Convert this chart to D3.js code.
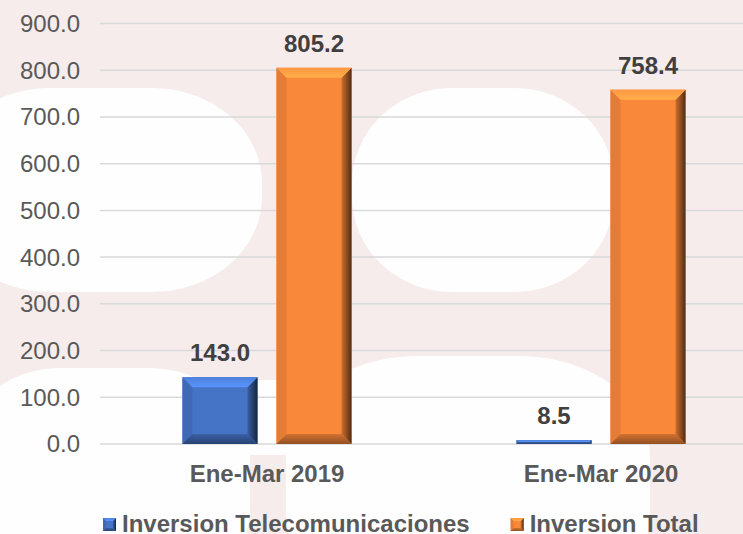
<!DOCTYPE html>
<html>
<head>
<meta charset="utf-8">
<script src="https://cdn.jsdelivr.net/npm/d3@7"></script>
<style>
  body { margin: 0; background: #fff; }
  svg { display: block; font-family: "Liberation Sans", Arial, sans-serif; }
</style>
</head>
<body>
<script>
// datos
const categorias = ["Ene-Mar 2019", "Ene-Mar 2020"];
const series = ["Inversion Telecomunicaciones", "Inversion Total"];
const telecom = [143.0, 8.5];
const total = [805.2, 758.4];
const ticks = [0, 100, 200, 300, 400, 500, 600, 700, 800, 900];
const colores = ["#4573c5", "#fa883a"];

const width = 743, height = 534;
const svg = d3.select("body").append("svg")
    .attr("width", width)
    .attr("height", height);

// fondo con marca de agua rosada (decorativo)
svg.append("rect").attr("width", width).attr("height", height).attr("fill", "#f7ecec");
const manchas = [
    // x, y, ancho, alto, radio x, radio y
    [-60, 88, 322, 204, 110, 95],
    [352, 88, 262, 204, 100, 95],
    [-40, 368, 290, 230, 100, 90],
    [286, 356, 364, 260, 130, 100],
    [230, 380, 70, 75, 0, 0]
];
svg.append("g").selectAll("rect").data(manchas).join("rect")
    .attr("x", d => d[0]).attr("y", d => d[1])
    .attr("width", d => d[2]).attr("height", d => d[3])
    .attr("rx", d => d[4]).attr("ry", d => d[5])
    .attr("fill", "#fefefe");

// escalas
const y = d3.scaleLinear().domain([0, 900]).range([444, 23.5]);
const x0 = d3.scaleBand().domain(categorias).range([100, 768]).padding(0);
const x1 = d3.scaleBand().domain(series).range([0, x0.bandwidth()])
    .paddingInner(0.202).paddingOuter(0.877);

// gradientes para el bisel
const defs = svg.append("defs");
colores.forEach((c, i) => {
    const base = d3.color(c);
    const g1 = defs.append("linearGradient").attr("id", "der" + i)
        .attr("x1", 0).attr("x2", 1).attr("y1", 0).attr("y2", 0);
    g1.append("stop").attr("offset", 0).attr("stop-color", base.darker(0.6));
    g1.append("stop").attr("offset", 0.6).attr("stop-color", base.darker(1.8));
    g1.append("stop").attr("offset", 1).attr("stop-color", base.darker(3.2));
    const g2 = defs.append("linearGradient").attr("id", "inf" + i)
        .attr("x1", 0).attr("x2", 0).attr("y1", 0).attr("y2", 1);
    g2.append("stop").attr("offset", 0).attr("stop-color", base.darker(0.5));
    g2.append("stop").attr("offset", 1).attr("stop-color", base.darker(1.5));
    const g3 = defs.append("linearGradient").attr("id", "sup" + i)
        .attr("x1", 0).attr("x2", 0).attr("y1", 0).attr("y2", 1);
    g3.append("stop").attr("offset", 0).attr("stop-color", base.brighter(0.3));
    g3.append("stop").attr("offset", 1).attr("stop-color", base.brighter(0.7));
});

// lineas de cuadricula
svg.append("g").selectAll("line").data(ticks).join("line")
    .attr("x1", 100).attr("x2", width)
    .attr("y1", d => y(d)).attr("y2", d => y(d))
    .attr("stroke", "#d9d9d9").attr("stroke-width", 1.5);

// etiquetas eje y
svg.append("g").selectAll("text").data(ticks).join("text")
    .attr("x", 80).attr("y", d => y(d)).attr("dy", "0.35em")
    .attr("text-anchor", "end")
    .attr("font-size", 24).attr("fill", "#595959")
    .text(d => d3.format(".1f")(d));

// barra con bisel
function barra(g, bx, by, w, h, i, bmax) {
    const b = Math.min(bmax, h / 2, w / 2);
    const pt = p => p.map(q => q.join(",")).join(" ");
    g.append("rect").attr("x", bx).attr("y", by).attr("width", w).attr("height", h)
        .attr("fill", colores[i]);
    if (b <= 0) return;
    g.append("polygon").attr("points", pt([[bx, by], [bx + b, by + b], [bx + b, by + h - b], [bx, by + h]]))
        .attr("fill", d3.color(colores[i]).darker(0.25));
    g.append("polygon").attr("points", pt([[bx + w, by], [bx + w - b, by + b], [bx + w - b, by + h - b], [bx + w, by + h]]))
        .attr("fill", `url(#der${i})`);
    g.append("polygon").attr("points", pt([[bx, by + h], [bx + b, by + h - b], [bx + w - b, by + h - b], [bx + w, by + h]]))
        .attr("fill", `url(#inf${i})`);
    g.append("polygon").attr("points", pt([[bx, by], [bx + w, by], [bx + w - b, by + b], [bx + b, by + b]]))
        .attr("fill", `url(#sup${i})`);
}

const valores = [telecom, total];
const barras = svg.append("g");
categorias.forEach((cat, ci) => {
    series.forEach((s, si) => {
        const v = valores[si][ci];
        const bx = x0(cat) + x1(s);
        const by = y(v);
        barra(barras.append("g"), bx, by, x1.bandwidth(), y(0) - by, si, 10);
        svg.append("text")
            .attr("x", bx + x1.bandwidth() / 2).attr("y", by - 16)
            .attr("text-anchor", "middle")
            .attr("font-size", 24).attr("font-weight", "bold").attr("fill", "#404040")
            .text(d3.format(".1f")(v));
    });
});

// etiquetas eje x
svg.append("g").selectAll("text").data(categorias).join("text")
    .attr("x", d => x0(d) + x0.bandwidth() / 2).attr("y", 482)
    .attr("text-anchor", "middle")
    .attr("font-size", 24).attr("font-weight", "bold").attr("fill", "#595959")
    .text(d => d);

// leyenda
let lx = 103;
series.forEach((s, i) => {
    const g = svg.append("g");
    barra(g, lx, 518, 13, 13, i, 3);
    const t = g.append("text").attr("x", lx + 19).attr("y", 532)
        .attr("font-size", 24).attr("font-weight", "bold").attr("fill", "#595959")
        .text(s);
    lx += 19 + t.node().getComputedTextLength() + 41;
});
</script>
</body>
</html>
